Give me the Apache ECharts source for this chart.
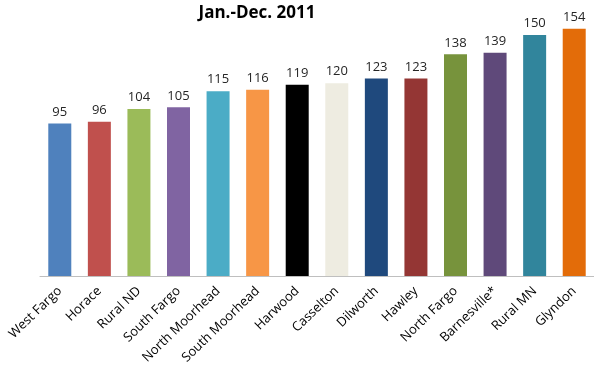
<!DOCTYPE html>
<html>
<head>
<meta charset="utf-8">
<script src="https://cdn.jsdelivr.net/npm/echarts@6/dist/echarts.min.js"></script>
<style>
  html, body { margin: 0; padding: 0; background: #ffffff; }
  #chart { width: 594px; height: 373px; }
</style>
</head>
<body>
<div id="chart"></div>
<script>
// Locations, in display order
const categories = [
  'West Fargo', 'Horace', 'Rural ND', 'South Fargo', 'North Moorhead',
  'South Moorhead', 'Harwood', 'Casselton', 'Dilworth', 'Hawley',
  'North Fargo', 'Barnesville*', 'Rural MN', 'Glyndon'
];

// Value per location, Jan.-Dec. 2011
const values = [95, 96, 104, 105, 115, 116, 119, 120, 123, 123, 138, 139, 150, 154];

// One fill colour per bar
const barColors = [
  '#4f81bd', '#c0504d', '#9bbb59', '#8064a2', '#4bacc6',
  '#f79646', '#000000', '#eeece1', '#1f497d', '#943634',
  '#77933c', '#5f497a', '#31859c', '#e36c09'
];

const FONT = 'Open Sans, Noto Sans, sans-serif';

const chart = echarts.init(document.getElementById('chart'), null, { renderer: 'canvas' });

chart.setOption({
  animation: false,
  backgroundColor: '#ffffff',
  title: {
    text: 'Jan.-Dec. 2011',
    left: 252,
    textAlign: 'center',
    top: 0,
    textStyle: { fontFamily: FONT, fontSize: 17, fontWeight: 'bold', color: '#000000' }
  },
  grid: { left: 40, width: 560, top: 19, bottom: 97, containLabel: false },
  xAxis: {
    type: 'category',
    data: categories,
    axisLine: { lineStyle: { color: '#bfbfbf', width: 1 } },
    axisTick: { show: false },
    axisLabel: {
      interval: 0,
      rotate: 44,
      margin: 13,
      fontFamily: FONT,
      fontSize: 13,
      color: '#000000'
    }
  },
  yAxis: {
    type: 'value',
    min: 0,
    max: 160,
    show: false,
    splitLine: { show: false }
  },
  series: [{
    type: 'bar',
    data: values.map((v, i) => ({ value: v, itemStyle: { color: barColors[i] } })),
    barWidth: 23,
    label: {
      show: true,
      position: 'top',
      distance: 5,
      fontFamily: FONT,
      fontSize: 13,
      color: '#262626'
    }
  }]
});
</script>
</body>
</html>
